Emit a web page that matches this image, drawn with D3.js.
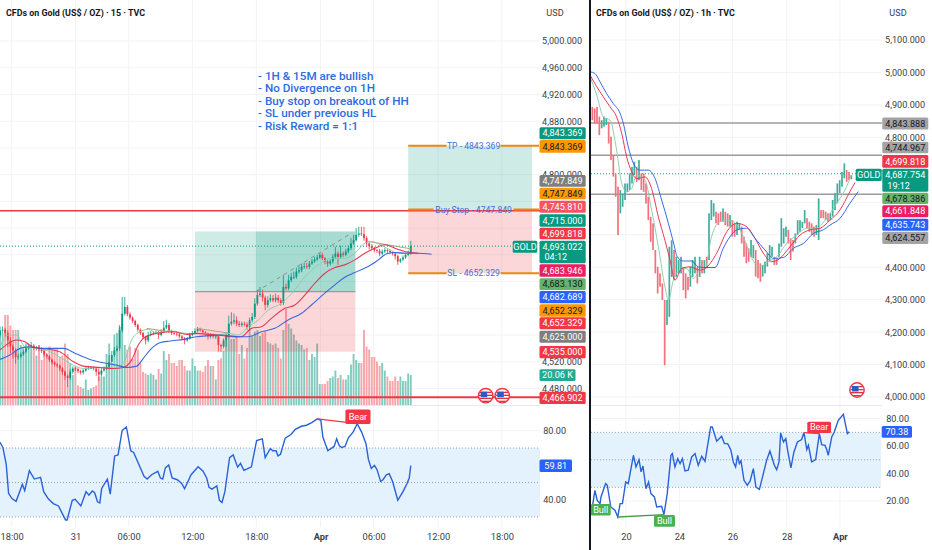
<!DOCTYPE html>
<html><head><meta charset="utf-8">
<script src="https://cdn.jsdelivr.net/npm/d3@7/dist/d3.min.js"></script>
<style>html,body{margin:0;background:#fff}svg{display:block}text{font-family:Roboto,"Liberation Sans",sans-serif}</style>
</head><body><svg id="c" width="932" height="550"></svg>
<script>
// ---------- 15m pane data ----------
const leftClose=[4567,4568,4563,4552,4543,4537,4527,4528,4531,4535,
4540,4543,4544,4541,4542,4539,4536,4531,4528,4523,
4519,4516,4514,4510,4505,4499,4496,4505,4510,4509,
4506,4504,4507,4510,4511,4511,4510,4505,4501,4507,
4510,4512,4520,4530,4537,4540,4567,4592,4602,4591,
4586,4581,4575,4568,4563,4557,4552,4560,4562,4563,
4564,4560,4565,4571,4575,4566,4563,4562,4561,4558,
4555,4552,4555,4560,4563,4566,4569,4567,4564,4562,
4558,4560,4558,4558,4545,4543,4552,4560,4577,4580,
4582,4577,4575,4577,4576,4572,4582,4587,4607,4620,
4622,4616,4605,4612,4615,4612,4616,4612,4608,4632,
4630,4642,4647,4647,4655,4657,4662,4663,4662,4667,
4670,4673,4676,4680,4675,4670,4667,4670,4677,4682,
4677,4682,4680,4685,4690,4697,4702,4710,4712,4711,
4705,4697,4693,4690,4687,4686,4682,4685,4687,4686,
4684,4682,4678,4670,4673,4676,4680,4682,4693.022];
const leftWickUp=[6,5,3,4,5,3,3,4,3,3,3,4,6,3,2,3,3,2,2,2,2,2,2,2,2,2,2,4,3,2,2,2,2,2,3,2,2,2,6,4,
3,4,10,6,5,4,8,25,15,3,3,2,2,2,2,2,2,5,4,3,3,3,4,10,8,3,2,2,2,2,2,2,2,3,3,4,3,2,2,2,
2,3,2,2,2,2,3,4,12,14,10,6,4,3,3,3,4,6,8,8,10,6,3,6,6,5,6,4,3,18,5,8,6,8,6,6,5,5,5,4,
4,4,4,3,3,2,2,3,4,10,3,12,3,4,4,8,8,10,10,10,11,3,2,3,2,2,3,3,3,2,2,2,2,2,2,3,3,4,8];
const leftWickDown=[4,4,6,10,10,12,10,4,3,2,2,2,2,3,4,3,3,3,3,3,3,3,3,4,5,6,14,3,3,3,3,3,3,2,2,2,3,6,10,3,
2,2,2,3,3,2,4,3,3,3,3,3,3,3,3,3,6,3,2,2,2,6,2,2,2,3,3,2,3,3,3,6,2,2,2,2,2,2,3,3,
5,3,3,4,10,8,3,10,4,3,4,4,3,3,3,4,5,3,3,3,3,6,8,4,3,3,3,4,4,3,3,3,3,3,3,3,3,3,3,3,
2,2,2,2,3,4,5,3,3,3,12,3,3,2,3,3,2,2,3,3,4,5,5,3,3,3,4,3,2,3,3,3,5,5,2,2,2,2,2];
const leftVolumeK=[48,48,60,60,53,50,50,50,40,39,41,38,40,39,33,40,30,38,33,39,38,38,38,32,33,41,34,28,20,26,
13,12,11,17,10,11,12,13,19,19,19,34,41,28,47,48,52,54,40,37,39,31,38,37,28,22,21,20,21,20,
17,24,21,36,30,34,28,28,26,30,30,26,23,23,31,26,23,23,22,26,30,26,26,17,30,31,36,43,46,44,
44,46,34,40,31,38,50,46,49,50,46,48,49,42,41,40,41,38,31,50,64,54,51,47,43,41,40,37,38,30,
34,32,41,14,14,14,16,18,19,23,18,20,17,17,20,27,34,30,28,28,50,39,37,32,32,29,26,28,23,19,
16,16,19,16,19,16,16,21,20.06];
const leftEmaBlue=[[0,4523.5],[3.8,4530],[7.7,4540],[11.5,4542],[16.7,4540],[24.4,4540],[29.5,4531.5],[34.6,4523.5],[39.7,4518.5],[44.9,4515],[48.7,4511.5],[52.6,4513.5],[55.1,4525],[58.3,4540],[61.5,4548.5],[65.4,4551],[70.5,4553.5],[75.6,4557.5],[80.1,4559],[85.2,4560],[91.6,4557.5],[95.5,4557.5],[100.6,4565],[105.7,4570],[110.8,4582.5],[116,4592.5],[119.8,4605],[123.7,4618.5],[128.8,4635],[132.6,4646.5],[136.5,4653.5],[141.6,4662.5],[145.5,4672.5],[148.7,4681.5],[151.9,4683.5],[155.7,4682.5],[160.9,4682.5],[166,4681]];
const leftEmaRed=[[0,4537.5],[3.2,4547.5],[6.4,4552.5],[9.6,4550],[12.8,4541.5],[17.9,4539],[23,4535],[28.2,4520],[32,4513.5],[38.5,4511.5],[43.6,4510],[47.4,4511.5],[50.6,4522.5],[53.2,4545],[55.1,4555],[57.7,4560],[61.5,4563.5],[66.7,4565],[71.8,4561],[75.6,4562.5],[80.1,4561],[83.9,4560],[89,4557.5],[92.9,4557.5],[96.7,4570],[100.6,4572.5],[104.4,4585],[109.6,4600],[113.4,4605],[117.3,4620],[121.1,4637.5],[125,4652.5],[128.8,4661],[132.6,4665],[136.5,4672.5],[140.3,4682.5],[144.2,4690],[148,4695],[151.9,4690],[155.7,4685],[160.9,4682.5]];
const leftEmaGreen=[[0,4542.5],[3.2,4560],[6.4,4560],[9.6,4542.5],[15.4,4540],[21.8,4530],[26.9,4517.5],[32,4510],[38.5,4511.5],[43.6,4510],[47.4,4517.5],[50.6,4552.5],[53.8,4565],[57,4568.5],[60.3,4563.5],[65.4,4566.5],[71.8,4562.5],[76.9,4562.5],[83.9,4560],[87.8,4562.5],[91.6,4560],[95.5,4572.5],[99.3,4582.5],[103.2,4597.5],[108.3,4607.5],[113.4,4627.5],[117.3,4647.5],[122.4,4665],[127.5,4675],[132.6,4675],[136.5,4682.5],[140.3,4697.5],[142.9,4700],[148,4691.5],[153.2,4682.5],[157,4682.5]];
const leftRsiPos=[0,1.1,2.4,3.3,4.6,6.2,8.6,9.5,11.3,13.2,15.6,16.8,18.5,20.5,22.5,25.2,25.8,27.8,28.9,31.1,33.1,34.2,35.5,36.4,37.5,38.4,39.1,41.3,42.4,44.1,45.4,47,48.6,50.3,51.4,55.4,56.6,58.3,60.7,61.7,62.6,63.6,64.9,66.2,68.2,69.8,71,73.5,76.2,78.1,79.5,80.4,81.5,83.4,84.4,85.4,86.5,88.3,89.7,91.4,92.5,93.8,95.1,96.7,98.7,100.9,102,104,104.9,106.2,106.9,107.9,109.7,111.9,113.6,115.9,117.9,119.9,122.1,123.4,124.2,126.1,128.5,129.5,130.5,131.4,132.7,134,135.8,137.4,139.1,140.8,141.7,142.8,144,145,146.4,147.3,148.6,149.7,151,153,155,156.6,157.4,158];
const leftRsiVal=[73.3,70.3,60.5,43.7,40.7,39.1,49,45.3,56.9,52,53,44.7,40.7,37.8,36.4,28.3,28.3,39.7,40.3,36.4,44.7,42.7,45.1,44.1,38.8,38.2,46.6,52,43.3,65.4,66,80.2,82.2,68.4,67.4,53.6,52,54.5,56.5,52.6,52,58.5,60.1,52.6,51.6,49.6,46.4,54.5,59.1,56.5,52.6,47.2,46.2,48,39.7,38.4,44.7,64.4,66,58.9,61.1,57.1,57.9,59.1,74.3,75.3,64.4,69.7,68.4,68.4,65.4,66.4,75.7,77.8,80.8,82.6,83.2,84.7,86.9,86.1,76.2,68.4,70.9,75.3,71.3,70.3,70.9,75.9,79.2,84.1,79.2,72.3,63.4,58.1,59.9,57.5,50.6,51.6,54.5,55.1,50.6,39.7,44.7,49.6,52.6,59.81];
const leftPriceGrid=[5000,4960,4920,4880,4840,4800,4760,4720,4680,4640,4600,4560,4520,4480];
const leftPriceTicks=[5000,4960,4920,4880,4800,4520,4480];
const leftRsiTicks=[80,40];
const leftRsiGrid=[80,60,40];
const leftTimeTicks=[4.5,29,49.5,74,98.6,123.3,143.7,168.5,193];
const leftTimeLabels=["18:00","31","06:00","12:00","18:00","Apr","06:00","12:00","18:00"];
const noteLines=["- 1H & 15M are bullish","- No Divergence on 1H","- Buy stop on breakout of HH","- SL under previous HL","- Risk Reward = 1:1"];
// ---------- 1h pane data ----------
const rightHigh=[4930,4894,4889,4894,4864,4853,4864,4859,4848,4802,4745,4689,4648,4638,4627,4658,4658,4689,4709,4725,4709,4730,4689,4689,4658,4617,4555,4535,4453,4401,4381,4350,4299,4299,4463,4483,4453,4432,4422,4432,4401,4381,4370,4401,4422,4432,4401,4432,4422,4422,4432,4566,
4607,4597,4571,4566,4571,4581,4571,4566,4561,4545,4535,4540,4535,4525,4494,4473,4458,4484,4468,4453,4422,4412,4407,4417,4443,4468,4463,4432,4427,4473,4551,4520,4525,4515,4489,4484,4504,4545,4545,4540,4576,4551,4540,4535,4525,4530,4612,4576,4576,4571,4566,4566,4607,4628,4658,4668,4694,4720,4699,4694,4684];
const rightLow=[4833,4853,4843,4843,4807,4828,4833,4838,4781,4730,4679,4617,4499,4566,4586,4607,4632,4638,4658,4684,4663,4668,4638,4632,4596,4545,4478,4453,4381,4319,4340,4299,4098,4222,4247,4370,4360,4370,4381,4381,4329,4304,4329,4340,4370,4381,4350,4370,4381,4381,4396,4422,
4545,4556,4535,4530,4540,4540,4530,4525,4525,4494,4494,4499,4515,4473,4432,4412,4417,4432,4427,4371,4366,4355,4371,4381,4402,4422,4432,4407,4407,4432,4463,4473,4494,4473,4422,4448,4473,4499,4509,4520,4535,4520,4509,4499,4494,4499,4484,4551,4551,4545,4540,4545,4556,4576,4597,4628,4648,4674,4663,4669,4671];
const rightUp=[0,0,0,0,0,1,1,1,0,0,0,0,0,1,1,1,1,1,1,1,0,1,0,0,0,0,0,0,0,0,0,0,0,1,1,1,0,1,1,1,0,0,0,1,1,1,0,1,0,1,0,1,
1,1,0,0,0,1,0,0,1,0,0,1,1,0,0,0,0,1,1,0,0,0,1,1,1,1,1,0,0,1,1,1,1,0,0,0,1,1,1,1,1,0,0,0,0,1,1,0,0,0,0,1,1,1,1,1,1,1,0,0,1];
const rightEmaBlue=[[0,5002],[2.1,4997],[4.3,4971],[7.1,4935],[10,4904],[12.9,4874],[14.3,4843],[16.4,4771],[18.6,4720],[21.4,4699],[25,4699],[27.9,4673],[30.7,4607],[33.6,4535],[35.7,4478],[37.4,4432],[40,4419],[43.6,4419],[46.4,4401],[48.6,4399],[53.6,4399],[57.1,4458],[60,4494],[62.9,4515],[67.1,4520],[70.7,4489],[75,4453],[78.6,4427],[82.9,4430],[87.1,4458],[91.4,4473],[95.7,4504],[100,4515],[102.9,4530],[107.1,4550],[111.4,4597],[115,4633]];
const rightEmaRed=[[0,4992],[2.9,4956],[5.7,4925],[8.6,4894],[11.4,4863],[13.6,4812],[15.7,4740],[17.9,4694],[20,4673],[23.6,4678],[26.4,4642],[29.3,4555],[32.1,4483],[34.3,4422],[36.4,4360],[39.3,4396],[42.9,4401],[47.1,4391],[49.3,4396],[54.3,4443],[58.6,4509],[62.9,4535],[67.1,4525],[70.7,4489],[74.3,4443],[77.9,4417],[81.4,4427],[85.7,4463],[90,4499],[94.3,4515],[98.6,4520],[102.9,4545],[107.1,4576],[111.4,4633],[113.6,4661]];
const rightEmaGreen=[[0,4987],[2.9,4930],[5.7,4863],[8.6,4853],[11.4,4761],[13.6,4658],[15.7,4632],[17.9,4643],[20,4684],[23.6,4668],[26.4,4576],[29.3,4463],[32.1,4340],[33.6,4299],[35.7,4360],[38.6,4391],[41.4,4396],[44.3,4365],[47.1,4391],[49.3,4396],[52.1,4494],[55.7,4540],[59.3,4545],[62.9,4530],[65.7,4494],[69.3,4427],[72.9,4402],[76.4,4417],[80,4432],[84.3,4473],[88.6,4499],[92.9,4520],[97.1,4520],[101.4,4551],[105.7,4597],[109.3,4638],[112,4684]];
const rightRsiPos=[0.7,2.1,3.1,4.3,4.7,6.7,7.4,8.9,10.7,11.9,12.9,13.9,15.3,16.4,18.6,19.7,21,21.9,22.7,24,25.1,26.1,27.6,28.6,30.7,31.7,33.1,34.7,35.3,36.4,37.6,38.6,39.6,40.7,42.1,43.6,45,46.4,47.9,49.3,51.7,52.4,54.3,56.4,57.6,59,60.4,61.4,62.4,63.3,64,64.7,66,67.4,68.6,70,71.1,72.6,74,75.7,77.1,79,80,81,81.7,82.9,83.9,84.7,86.1,87.4,88.9,90.7,91.7,92.9,93.6,95,96.7,98.3,99.3,100.7,101.4,102.1,103.6,104.7,106.4,108.6,110.3,111.1];
const rightRsiVal=[12.1,27.8,20.5,18.1,23,32.7,31.5,15.7,13.3,8.4,18.1,18.1,33.9,32.7,53.3,44.8,50.1,41.2,45.5,29,33.9,25.4,23,15.7,16.2,10.1,25.4,53.3,54.5,44.8,50.8,47.2,50.8,41.9,42.4,52.1,54.5,46,52.5,48.9,73.9,73.9,63.5,67.1,61.8,61.8,56.9,48.4,44.8,53.3,47.2,49.2,35.1,31.5,34.4,43.6,30.2,28.5,38,49.6,56.4,46,42.8,48.4,69.5,63,65.4,56.9,44.1,55.7,63,64.7,69.8,57.4,60.5,48.4,50.1,69,61,60.5,57.6,53.3,66.6,70.2,78.7,83.1,69,70.38];
const rightPriceGrid=[5100,5000,4900,4800,4700,4600,4500,4400,4300,4200,4100,4000];
const rightPriceTicks=[5100,5000,4900,4800,4400,4300,4200,4100,4000];
const rightRsiTicks=[80,60,40,20];
const rightTimeTicks=[15.4,38.3,61.1,84.3,107.1];
const rightTimeLabels=["20","24","26","28","Apr"];

// ---------- scales ----------
const svg=d3.select("#c");
const xL=d3.scaleLinear([0,207.7],[0,540]);
const yL=d3.scaleLinear([4480,5000],[388.5,41]);
const vL=d3.scaleLinear([0,100],[405,255]);
const rL=d3.scaleLinear([30,70],[517,448]);
const xR=d3.scaleLinear([0,125.14],[590,882]);
const yR=d3.scaleLinear([4000,5100],[397,40]);
const rR=d3.scaleLinear([30,70],[487.3,432.3]);
const line=(x,y)=>d3.line().x(d=>x(d[0])).y(d=>y(d[1]));
const UP="#089981",DN="#f23645",GRID="#f2f3f6",TXT="#3a3e4a",FS=9.1;
const fmt=d3.format(",.3f");

function grid(xs,ys,x0,x1,y0,y1){
  const g=svg.append("g").attr("stroke",GRID).attr("stroke-width",1);
  g.selectAll(".v").data(xs).join("line").attr("x1",d=>d).attr("x2",d=>d).attr("y1",y0).attr("y2",y1);
  g.selectAll(".h").data(ys).join("line").attr("y1",d=>d).attr("y2",d=>d).attr("x1",x0).attr("x2",x1);
}
function band(x0,x1,scale){
  svg.append("rect").attr("x",x0).attr("width",x1-x0).attr("y",scale(70)).attr("height",scale(30)-scale(70)).attr("fill","#e4f2fd");
  svg.append("g").selectAll("line").data([70,50,30]).join("line")
    .attr("x1",x0).attr("x2",x1).attr("y1",d=>scale(d)).attr("y2",d=>scale(d))
    .attr("stroke","#9aa0ab").attr("stroke-dasharray","1 2");
}
function priceAxis(scale,ticks,x,f){
  const g=svg.append("g").attr("transform",`translate(${x},0)`)
    .call(d3.axisRight(scale).tickValues(ticks).tickSize(0).tickPadding(0).tickFormat(f));
  g.select(".domain").remove();
  g.selectAll("text").attr("text-anchor","end").attr("font-size",FS).attr("fill",TXT).attr("font-family","Roboto");
}
function timeAxis(scale,ticks,labels,y){
  const g=svg.append("g").attr("transform",`translate(0,${y})`)
    .call(d3.axisBottom(scale).tickValues(ticks).tickSize(0).tickPadding(0).tickFormat((d,i)=>labels[i]));
  g.select(".domain").remove();
  g.selectAll("text").attr("font-size",9.3).attr("fill",TXT).attr("font-family","Roboto")
    .attr("font-weight",d=>labels[ticks.indexOf(d)]==="Apr"?700:400);
}
function tag(x0,x1,y0,y1,fill,txt,col,sub){
  svg.append("rect").attr("x",x0).attr("y",y0).attr("width",x1-x0).attr("height",y1-y0).attr("rx",1.5).attr("fill",fill);
  const t=svg.append("text").attr("x",(x0+x1)/2).attr("y",(sub?y0+6.3:(y0+y1)/2)).attr("dy","0.35em")
    .attr("text-anchor","middle").attr("font-size",FS).attr("fill",col).text(txt);
  if(sub) svg.append("text").attr("x",x0+5).attr("y",y1-6).attr("dy","0.35em").attr("font-size",FS).attr("fill",col).text(sub);
}
function flag(cx,cy,id){
  const g=svg.append("g").attr("transform",`translate(${cx},${cy})`);
  g.append("clipPath").attr("id",id).append("circle").attr("r",6.8);
  const f=g.append("g").attr("clip-path",`url(#${id})`);
  f.append("rect").attr("x",-8).attr("y",-8).attr("width",16).attr("height",16).attr("fill","#fff");
  [-4,-1,2,5].forEach(y=>f.append("rect").attr("x",-7).attr("y",y).attr("width",14).attr("height",1.3).attr("fill","#e0303f"));
  f.append("rect").attr("x",-5).attr("y",-4).attr("width",6.5).attr("height",5.5).attr("fill","#2a5bc7");
  g.append("circle").attr("r",7.2).attr("fill","none").attr("stroke",DN).attr("stroke-width",1.4);
}
function emaPath(data,x,y,color,w){
  svg.append("path").datum(data).attr("d",line(x,y).curve(d3.curveMonotoneX)).attr("fill","none").attr("stroke",color).attr("stroke-width",w).attr("stroke-opacity",.95);
}

// ---------- left pane ----------
grid(leftTimeTicks.map(d=>xL(d)),leftPriceGrid.map(d=>yL(d)).concat(leftRsiGrid.map(d=>rL(d))),0,540,0,527);
band(0,540,rL);
svg.append("line").attr("x1",0).attr("x2",540).attr("y1",405.5).attr("y2",405.5).attr("stroke","#e6e8ee");

const opens=leftClose.map((c,i)=>i?leftClose[i-1]:4560);
const isUp=i=>leftClose[i]>=opens[i];
// volume
svg.append("g").selectAll("rect").data(leftVolumeK).join("rect")
 .attr("x",(d,i)=>xL(i)-0.95).attr("width",1.9).attr("y",d=>vL(d)).attr("height",d=>vL(0)-vL(d))
 .attr("fill",(d,i)=>isUp(i)?"#84cbbf":"#f7a5ab");
// positions
const pos=(i0,i1,p0,p1,c)=>svg.append("rect").attr("x",xL(i0)).attr("width",xL(i1)-xL(i0)).attr("y",yL(p0)).attr("height",yL(p1)-yL(p0)).attr("fill",c);
pos(75,136.7,4715,4625,"rgba(8,153,129,.2)");
pos(98.5,136.7,4715,4625,"rgba(8,153,129,.2)");
pos(75,136.7,4625,4535,"rgba(242,54,69,.2)");
pos(157,204.6,4843.369,4747.849,"rgba(8,153,129,.2)");
pos(157,204.6,4747.849,4652.329,"rgba(242,54,69,.2)");
svg.append("line").attr("x1",xL(75)).attr("x2",xL(136.7)).attr("y1",yL(4625)).attr("y2",yL(4625)).attr("stroke","#9a9a9a").attr("stroke-width",1.4);
// horizontal levels
svg.append("line").attr("x1",0).attr("x2",540).attr("y1",yL(4745.81)).attr("y2",yL(4745.81)).attr("stroke",DN).attr("stroke-width",1.5);
svg.append("line").attr("x1",0).attr("x2",540).attr("y1",yL(4466.902)).attr("y2",yL(4466.902)).attr("stroke",DN).attr("stroke-width",2);
svg.append("line").attr("x1",0).attr("x2",513).attr("y1",yL(4693.022)).attr("y2",yL(4693.022)).attr("stroke",UP).attr("stroke-dasharray","1 2");
// wicks+bodies
const cg=svg.append("g");
cg.selectAll(".w").data(leftClose).join("line")
 .attr("x1",(d,i)=>xL(i)).attr("x2",(d,i)=>xL(i))
 .attr("y1",(d,i)=>yL(Math.max(d,opens[i])+leftWickUp[i])).attr("y2",(d,i)=>yL(Math.min(d,opens[i])-leftWickDown[i]))
 .attr("stroke",(d,i)=>isUp(i)?UP:DN).attr("stroke-width",.8);
cg.selectAll(".b").data(leftClose).join("rect")
 .attr("x",(d,i)=>xL(i)-0.9).attr("width",1.8)
 .attr("y",(d,i)=>yL(Math.max(d,opens[i]))).attr("height",(d,i)=>Math.max(.8,Math.abs(yL(d)-yL(opens[i]))))
 .attr("fill",(d,i)=>isUp(i)?UP:DN);
// drawn trendlines
svg.append("line").attr("x1",xL(98.6)).attr("y1",yL(4625)).attr("x2",xL(135)).attr("y2",yL(4712)).attr("stroke","#8f8f8f").attr("stroke-dasharray","4 4");
[[141.7,4700,158,4689],[75.6,4570,87.8,4563],[56.4,4570,64.8,4565]].forEach(s=>
 svg.append("line").attr("x1",xL(s[0])).attr("y1",yL(s[1])).attr("x2",xL(s[2])).attr("y2",yL(s[3])).attr("stroke","#a8a878").attr("stroke-width",1));
emaPath(leftEmaGreen,xL,yL,"#8fcaa6",1);
emaPath(leftEmaRed,xL,yL,"#e5304f",1.1);
emaPath(leftEmaBlue,xL,yL,"#2f62e0",1.1);
// entry lines with labels
[[4843.369,"TP - 4843.369"],[4747.849,"Buy Stop - 4747.849"],[4652.329,"SL - 4652.329"]].forEach(([p,t])=>{
  const y=yL(p);
  const half=t.length>14?40:27;
  svg.append("line").attr("x1",xL(157)).attr("x2",473.6-half).attr("y1",y).attr("y2",y).attr("stroke","#e98a0c").attr("stroke-width",2);
  svg.append("line").attr("x1",473.6+half).attr("x2",539).attr("y1",y).attr("y2",y).attr("stroke","#e98a0c").attr("stroke-width",2);
  svg.append("text").attr("x",473.6).attr("y",y).attr("dy","0.36em").attr("text-anchor","middle").attr("font-size",8.6).attr("fill","#3f6fd8").text(t);
});
flag(485.7,395.7,"f1");flag(502.3,395.7,"f2");
// note
svg.append("g").selectAll("text").data(noteLines).join("text").attr("x",258).attr("y",(d,i)=>80+i*12.4)
 .attr("font-size",11.7).attr("font-weight",500).attr("fill","#2f6be0").text(d=>d);
// rsi
svg.append("path").datum(leftRsiPos.map((p,i)=>[p,leftRsiVal[i]])).attr("d",line(xL,rL)).attr("fill","none").attr("stroke","#2962d8").attr("stroke-width",1.4);
svg.append("line").attr("x1",xL(122.1)).attr("y1",rL(86.9)).attr("x2",xL(137.4)).attr("y2",rL(84.1)).attr("stroke",DN).attr("stroke-width",1.3);
tag(345.4,370.5,409.5,424,DN,"Bear","#fff");
// axes
priceAxis(yL,leftPriceTicks,582,d=>fmt(d));
priceAxis(rL,leftRsiTicks,566,d=>d3.format(".2f")(d));
svg.append("text").attr("x",555).attr("y",13).attr("dy","0.35em").attr("text-anchor","middle").attr("font-size",FS).attr("fill",TXT).text("USD");
svg.append("text").attr("x",6).attr("y",13).attr("dy","0.35em").attr("font-size",8.9).attr("font-weight",700).attr("fill","#131722").text("CFDs on Gold (US$ / OZ) · 15 · TVC");
timeAxis(xL,leftTimeTicks,leftTimeLabels,533);
// left tags
const LX0=539.5,LX1=585.7;
tag(LX0,LX1,127.3,139.3,UP,"4,843.369","#fff");
tag(LX0,LX1,140,152.7,"#ff9800","4,843.369","#131722");
tag(LX0,LX1,175,186.7,"#7e7e7e","4,747.849","#fff");
tag(LX0,LX1,187.7,199.3,"#ff9800","4,747.849","#131722");
tag(LX0,LX1,200.7,212.7,"#f7525f","4,745.810","#fff");
tag(LX0,LX1,214.3,226.7,UP,"4,715.000","#fff");
tag(LX0,LX1,227.7,239.3,DN,"4,699.818","#fff");
tag(LX0,LX1,240.7,263.3,UP,"4,693.022","#fff","04:12");
tag(LX0,LX1,264.3,276.7,"#e91e63","4,683.946","#fff");
tag(LX0,LX1,278.3,290,"#66b36a","4,683.130","#131722");
tag(LX0,LX1,291,303.3,"#2962ff","4,682.689","#fff");
tag(LX0,LX1,304.3,316.7,"#ff9800","4,652.329","#131722");
tag(LX0,LX1,317.3,329.3,DN,"4,652.329","#fff");
tag(LX0,LX1,330.7,342.7,"#7e7e7e","4,625.000","#fff");
tag(LX0,LX1,346,358.3,DN,"4,535.000","#fff");
tag(LX0,575.5,369.3,381,"#22ab94","20.06 K","#fff");
tag(LX0,LX1,391.7,404,DN,"4,466.902","#fff");
tag(512.7,537.3,240.7,252.7,UP,"GOLD","#fff");
tag(LX0,572,459.5,472,"#2962ff","59.81","#fff");

// ---------- right pane ----------
grid(rightTimeTicks.map(d=>xR(d)),rightPriceGrid.map(d=>yR(d)).concat(rightRsiTicks.map(d=>rR(d))),591,882,0,527);
band(591,881,rR);
svg.append("line").attr("x1",591).attr("x2",882).attr("y1",405.5).attr("y2",405.5).attr("stroke","#e6e8ee");
[4843.888,4744.967,4624.557].forEach(p=>svg.append("line").attr("x1",591).attr("x2",882).attr("y1",yR(p)).attr("y2",yR(p)).attr("stroke","#9c9c9c").attr("stroke-width",1.5));
svg.append("line").attr("x1",591).attr("x2",856).attr("y1",yR(4687.754)).attr("y2",yR(4687.754)).attr("stroke",UP).attr("stroke-dasharray","1 2");
svg.append("g").selectAll("rect").data(rightHigh).join("rect")
 .attr("x",(d,i)=>xR(i)-0.85).attr("width",1.7).attr("y",d=>yR(d)).attr("height",(d,i)=>yR(rightLow[i])-yR(d))
 .attr("fill",(d,i)=>rightUp[i]?"#3fae9b":"#f4707c");
emaPath(rightEmaGreen,xR,yR,"#8fcaa6",1);
emaPath(rightEmaRed,xR,yR,"#e5304f",1);
emaPath(rightEmaBlue,xR,yR,"#2f62e0",1);
flag(857,390,"f3");
svg.append("path").datum(rightRsiPos.map((p,i)=>[p,rightRsiVal[i]])).attr("d",line(xR,rR)).attr("fill","none").attr("stroke","#2962d8").attr("stroke-width",1.4);
svg.append("line").attr("x1",xR(11.9)).attr("y1",rR(8.4)).attr("x2",xR(31.7)).attr("y2",rR(10.1)).attr("stroke","#43a047").attr("stroke-width",1.3);
svg.append("line").attr("x1",xR(91.7)).attr("y1",rR(69.8)).attr("x2",xR(98.3)).attr("y2",rR(69)).attr("stroke",DN).attr("stroke-width",1.3);
tag(590.7,610.7,504,515.5,"#4caf50","Bull","#fff");
tag(654,675,515,526.7,"#4caf50","Bull","#fff");
tag(807.3,831,421.7,432.9,DN,"Bear","#fff");
priceAxis(yR,rightPriceTicks,925,d=>fmt(d));
priceAxis(rR,rightRsiTicks,909,d=>d3.format(".2f")(d));
svg.append("text").attr("x",898).attr("y",13).attr("dy","0.35em").attr("text-anchor","middle").attr("font-size",FS).attr("fill",TXT).text("USD");
svg.append("text").attr("x",596).attr("y",13).attr("dy","0.35em").attr("font-size",8.9).attr("font-weight",700).attr("fill","#131722").text("CFDs on Gold (US$ / OZ) · 1h · TVC");
timeAxis(xR,rightTimeTicks,rightTimeLabels,533);
const RX0=882.3,RX1=928.3;
tag(RX0,RX1,117.5,129.5,"#a3a3a3","4,843.888","#131722");
tag(RX0,RX1,141.7,153.3,"#a3a3a3","4,744.967","#131722");
tag(RX0,RX1,155,167.7,DN,"4,699.818","#fff");
tag(RX0,RX1,168.7,191.7,UP,"4,687.754","#fff","19:12");
tag(RX0,RX1,192.7,204,"#66b36a","4,678.386","#131722");
tag(RX0,RX1,205.3,217.3,"#e91e63","4,661.848","#fff");
tag(RX0,RX1,218.7,230.7,"#2962ff","4,635.743","#fff");
tag(RX0,RX1,231.7,244,"#a3a3a3","4,624.557","#131722");
tag(855.7,881.7,168.7,181,UP,"GOLD","#fff");
tag(881.7,912,426,437.7,"#2962ff","70.38","#fff");
// divider
svg.append("rect").attr("x",589).attr("y",0).attr("width",2).attr("height",550).attr("fill","#131722");
</script></body></html>
